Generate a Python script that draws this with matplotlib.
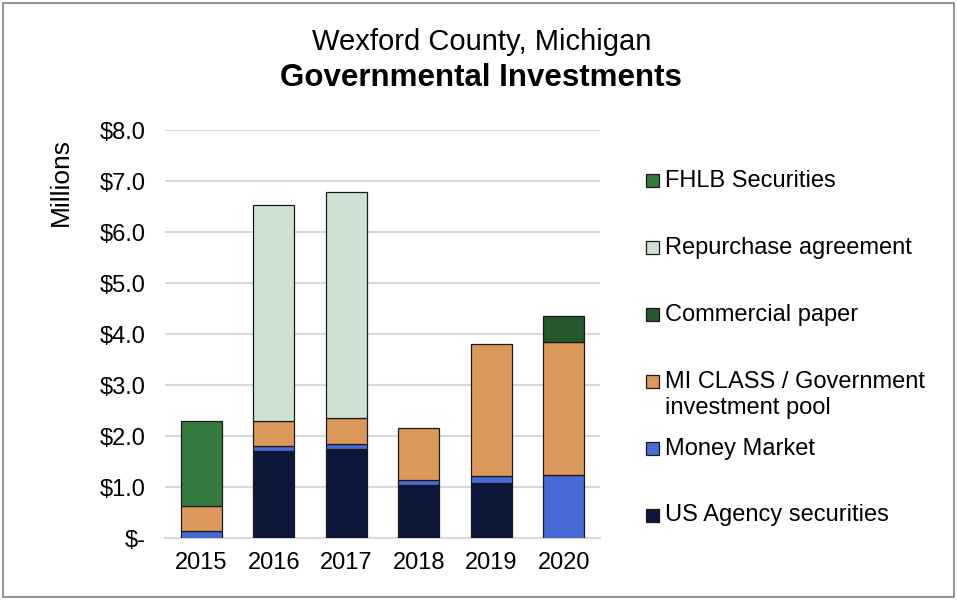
import numpy as np
import matplotlib.pyplot as plt
from matplotlib.patches import Rectangle

plt.rcParams["font.family"] = ["Liberation Sans", "DejaVu Sans"]

# ---------------------------------------------------------------------------
years = ["2015", "2016", "2017", "2018", "2019", "2020"]

# values in millions, bottom to top of each stack
us_agency = [0.00, 1.71, 1.74, 1.03, 1.08, 0.00]
money_market = [0.13, 0.09, 0.10, 0.10, 0.13, 1.24]
mi_class = [0.50, 0.50, 0.52, 1.03, 2.60, 2.60]
commercial_paper = [0.00, 0.00, 0.00, 0.00, 0.00, 0.51]
repurchase = [0.00, 4.23, 4.43, 0.00, 0.00, 0.00]
fhlb = [1.66, 0.00, 0.00, 0.00, 0.00, 0.00]

series = [
    ("US Agency securities", us_agency, "#0c1638"),
    ("Money Market", money_market, "#466bd9"),
    ("MI CLASS / Government\ninvestment pool", mi_class, "#dc975a"),
    ("Commercial paper", commercial_paper, "#265a2e"),
    ("Repurchase agreement", repurchase, "#cfe3d4"),
    ("FHLB Securities", fhlb, "#357a3d"),
]

yticks = [0, 1, 2, 3, 4, 5, 6, 7, 8]
ytick_labels = ["$-", "$1.0", "$2.0", "$3.0", "$4.0", "$5.0", "$6.0", "$7.0", "$8.0"]

# ---------------------------------------------------------------------------
fig = plt.figure(figsize=(9.57, 6.0), dpi=100)
ax = fig.add_axes([0.1724, 0.1033, 0.4546, 0.68])

x = np.arange(len(years))
bottom = np.zeros(len(years))
for label, values, color in series:
    vals = np.array(values)
    mask = vals > 0
    ax.bar(x[mask], vals[mask], width=0.57, bottom=bottom[mask], color=color,
           edgecolor="#1a1a1a", linewidth=0.9, zorder=3)
    bottom += vals

ax.set_xlim(-0.5, len(years) - 0.5)
ax.set_ylim(0, 8)
ax.set_yticks(yticks)
ax.set_yticklabels(ytick_labels)
ax.set_xticks(x)
ax.set_xticklabels(years)
ax.tick_params(axis="both", length=0, labelsize=17, colors="black")
ax.tick_params(axis="y", pad=14)
ax.tick_params(axis="x", pad=10)
ax.grid(axis="y", color="#d9d9d9", linewidth=1.5, zorder=0)
for side in ["left", "right", "top"]:
    ax.spines[side].set_visible(False)
ax.spines["bottom"].set_color("#d9d9d9")
ax.spines["bottom"].set_linewidth(1.5)

# ---------------------------------------------------------------------------
fig.text(0.503, 1 - 42 / 600, "Wexford County, Michigan", ha="center", va="center", fontsize=21)
fig.text(0.503, 1 - 78 / 600, "Governmental Investments", ha="center", va="center",
         fontsize=22.5, fontweight="bold")
fig.text(61 / 957, 1 - 182 / 600, "Millions", ha="center", va="center", rotation=90, fontsize=19)

# legend, top entry first
y0 = 1 - 180 / 600
step = 67 / 600
for i, (label, values, color) in enumerate(reversed(series)):
    yc = y0 - i * step
    fig.add_artist(Rectangle((646 / 957, yc - 6.5 / 600), 13 / 957, 13 / 600,
                             transform=fig.transFigure, facecolor=color,
                             edgecolor="#1a1a1a", linewidth=0.9))
    fig.text(665 / 957, yc + 10.5 / 600, label, ha="left", va="top", fontsize=17,
             linespacing=1.29)

fig.add_artist(Rectangle((0.003, 0.005), 0.994, 0.99, transform=fig.transFigure,
                         facecolor="none", edgecolor="#808080", linewidth=1.2))

fig.savefig("out.png", dpi=100)
